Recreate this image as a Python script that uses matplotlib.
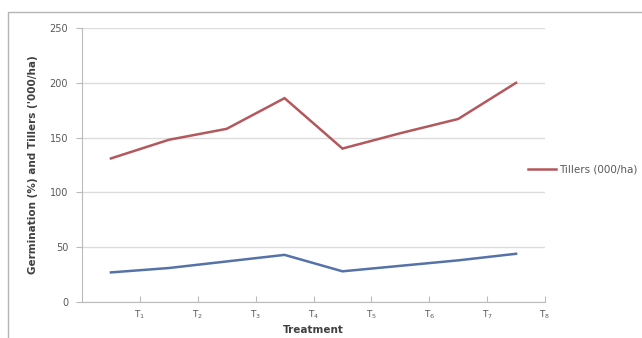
import matplotlib
matplotlib.use("Agg")
import matplotlib.pyplot as plt
from matplotlib.patches import Rectangle
from matplotlib.lines import Line2D

# Treatment data
treatments = ["T$_1$", "T$_2$", "T$_3$", "T$_4$", "T$_5$", "T$_6$", "T$_7$", "T$_8$"]
germination = [27, 31, 37, 43, 28, 33, 38, 44]
tillers = [131, 148, 158, 186, 140, 154, 167, 200]
y_ticks = [0, 50, 100, 150, 200, 250]

red = "#B3585C"
blue = "#5573A8"
grid_c = "#DCDCDC"
text_c = "#595959"

fig = plt.figure(figsize=(6.42, 3.38), dpi=100)
fig.patch.set_facecolor("white")

# chart-area border
fig.patches.append(Rectangle((8 / 642, -0.05), 1.2, 1 - 12 / 338 + 0.05,
                             transform=fig.transFigure, fill=False,
                             edgecolor="#B5B5B5", linewidth=1.0))

ax = fig.add_axes([82 / 642, 1 - 302 / 338, (545 - 82) / 642, (302 - 28) / 338])
x = list(range(len(treatments)))
ax.plot(x, germination, color=blue, linewidth=1.8, solid_joinstyle="miter")
ax.plot(x, tillers, color=red, linewidth=1.8, solid_joinstyle="miter")

ax.set_xlim(-0.5, len(treatments) - 0.5)
ax.set_ylim(0, 250)
ax.set_yticks(y_ticks)
ax.set_yticklabels([str(v) for v in y_ticks], fontsize=7, color=text_c)
ax.set_xticks([i + 0.5 for i in x])
ax.set_xticklabels(treatments, fontsize=6.5, color=text_c)
ax.tick_params(axis="y", length=4, color="#BBBBBB", pad=6)
ax.tick_params(axis="x", length=4, color="#BBBBBB", pad=5, direction="in")

ax.grid(axis="y", color=grid_c, linewidth=1.0)
ax.set_axisbelow(True)
for side in ["top", "right"]:
    ax.spines[side].set_visible(False)
ax.spines["left"].set_color("#BBBBBB")
ax.spines["bottom"].set_color("#BBBBBB")

ax.set_xlabel("Treatment", fontsize=7.5, fontweight="bold", color="#404040")
ax.xaxis.set_label_coords(0.5, -(330 - 302) / (302 - 28), transform=ax.transAxes)
ax.xaxis.label.set_va("center")
ax.set_ylabel("Germination (%) and Tillers ('000/ha)", fontsize=7.5,
              fontweight="bold", color="#404040", labelpad=8)

# legend entry on the right
fig.lines.append(Line2D([528 / 642, 556 / 642], [1 - 169 / 338, 1 - 169 / 338],
                        transform=fig.transFigure, color=red, linewidth=1.8))
fig.text(559 / 642, 1 - 169 / 338, "Tillers (000/ha)", fontsize=7.5, color=text_c,
         va="center", ha="left")

fig.savefig("out.png", dpi=100, facecolor="white")
